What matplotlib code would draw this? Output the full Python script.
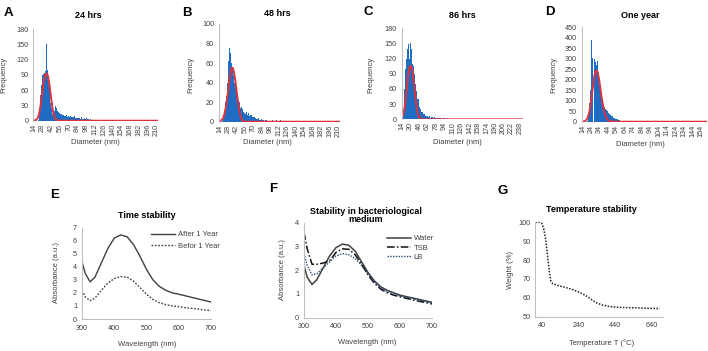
import matplotlib
matplotlib.use('Agg')
import matplotlib.pyplot as plt

plt.rcParams['font.family'] = ['Liberation Sans', 'DejaVu Sans']

# ---------------- data ----------------
# size histograms, 1 nm bins starting at 14 nm
hist_a = [0, 0, 0, 0, 0, 0, 0,
          2, 5, 12, 30, 50, 70, 85, 90, 92, 95,
          93, 95, 98, 150, 108, 100, 88, 75, 60, 45,
          35, 25, 18, 14, 12, 15, 20, 24, 28, 25,
          22, 20, 18, 17, 15, 16, 14, 13, 15, 12,
          11, 13, 10, 11, 9, 12, 10, 8, 9, 11,
          8, 7, 9, 8, 6, 8, 7, 6, 9, 7,
          5, 6, 7, 5, 6, 4, 5, 6, 4, 8,
          5, 4, 6, 3, 5, 4, 3, 5, 3, 4,
          3, 4, 2, 3, 4, 2, 3, 2, 3, 2,
          2, 3, 1, 2, 2, 1, 2, 1, 2, 1,
          1, 2, 1, 1, 0, 1, 1, 0, 1, 1,
          0, 1, 1, 0, 1, 0, 0, 1, 0, 1,
          0, 0, 1, 0, 0, 1, 0, 0, 0, 1,
          0, 0, 0, 1, 0, 0, 0, 0, 1, 0,
          0, 0, 0, 0, 0, 1, 0, 0, 0, 0,
          0, 0, 0, 0, 0, 0, 0, 0, 0, 0,
          0, 1, 0, 0, 0, 0, 0, 0, 0, 0,
          0, 0, 0, 0, 0, 0, 0, 0, 0, 0,
          0, 0, 0, 0, 0, 0, 0, 0, 0, 0,
          0, 0, 0]
hist_b = [0, 0, 0, 0, 0, 1, 3,
          6, 10, 15, 20, 26, 33, 40, 48, 62, 75,
          68, 70, 82, 60, 56, 52, 48, 44, 40, 36,
          32, 28, 30, 25, 22, 28, 20, 17, 14, 15,
          12, 13, 10, 11, 9, 10, 8, 10, 9, 7,
          8, 9, 6, 8, 7, 6, 7, 5, 6, 5,
          4, 5, 4, 5, 3, 4, 3, 4, 3, 2,
          3, 2, 3, 2, 2, 3, 2, 1, 2, 2,
          1, 2, 1, 2, 1, 1, 2, 1, 1, 1,
          2, 1, 1, 1, 0, 1, 1, 2, 1, 0,
          1, 1, 0, 1, 2, 1, 0, 1, 1, 0,
          1, 0, 1, 1, 0, 1, 0, 1, 0, 1,
          0, 1, 0, 0, 1, 0, 1, 0, 0, 1,
          0, 1, 0, 0, 1, 0, 0, 1, 0, 0,
          1, 0, 0, 1, 0, 0, 0, 1, 0, 0,
          1, 0, 0, 0, 1, 0, 0, 0, 0, 1,
          0, 0, 0, 0, 1, 0, 0, 0, 0, 0,
          0, 1, 0, 0, 0, 0, 0, 0, 1, 0,
          0, 0, 0, 0, 0, 1, 0, 0, 0, 0,
          0, 1, 0, 0, 0, 0, 0, 0, 0, 0,
          0, 0, 0]
hist_c = [2, 8, 20, 40, 60, 80, 100,
          115, 120, 125, 140, 152, 148, 130, 120, 125, 150,
          145, 140, 115, 110, 105, 100, 90, 80, 70, 60,
          55, 45, 40, 35, 40, 30, 25, 22, 20, 18,
          15, 12, 14, 10, 9, 11, 8, 7, 9, 6,
          5, 7, 5, 4, 5, 6, 4, 3, 4, 5,
          3, 4, 3, 3, 4, 2, 3, 3, 2, 3,
          2, 3, 2, 2, 3, 2, 2, 1, 2, 2,
          1, 2, 1, 2, 1, 1, 2, 1, 1, 2,
          1, 1, 1, 0, 1, 1, 0, 1, 1, 1,
          0, 1, 1, 0, 1, 0, 1, 1, 0, 1,
          1, 0, 0, 1, 0, 1, 0, 0, 1, 0,
          1, 0, 0, 1, 0, 0, 1, 0, 0, 1,
          0, 1, 0, 0, 1, 0, 0, 0, 1, 0,
          0, 1, 0, 0, 0, 1, 0, 0, 1, 0,
          0, 0, 1, 0, 0, 0, 0, 1, 0, 0,
          0, 1, 0, 0, 0, 0, 1, 0, 0, 0,
          1, 0, 0, 0, 0, 1, 0, 0, 0, 0,
          0, 0, 1, 0, 0, 0, 0, 0, 1, 0,
          0, 0, 0, 0, 1, 0, 0, 0, 0, 0,
          0, 1, 0, 0, 0, 0, 0, 0, 1, 0,
          0, 0, 0, 0, 0, 1, 0, 0, 0, 0,
          0, 0, 0, 1, 0, 0, 0, 0, 0, 1,
          0, 0, 0]
hist_d = [0, 0, 0, 0, 0, 0, 5,
          30, 90, 150, 230, 390, 305, 0, 300, 285, 270,
          250, 290, 220, 200, 160, 130, 110, 95, 80, 70,
          60, 55, 50, 45, 40, 35, 32, 28, 25, 22,
          20, 18, 15, 13, 12, 10, 8, 7, 5, 4,
          3, 2, 2, 1, 1, 0, 1, 0, 0, 0,
          0, 0, 0, 0, 0, 0, 0, 0, 0, 0,
          0, 0, 0, 0, 0, 0, 0, 0, 0, 0,
          0, 0, 0, 0, 0, 0, 0, 0, 0, 0,
          0, 0, 0, 0, 0, 0, 0, 0, 0, 0,
          0, 0, 0, 0, 0, 0, 0, 0, 0, 0,
          0, 0, 0, 0, 0, 0, 0, 0, 0, 0,
          0, 0, 0, 0, 0, 0, 0, 0, 0, 0,
          0, 0, 0, 0, 0, 0, 0, 0, 0, 0,
          0, 0, 0, 0, 0, 0, 0, 0, 0, 0,
          0]

# fitted curves (red)
fit_a_x = [14, 18, 20, 22, 24, 26, 28, 30, 32, 34, 36, 38, 40, 42, 44, 46, 48, 50, 52, 55, 213]
fit_a_y = [0, 2, 5, 12, 25, 42, 62, 80, 90, 93, 90, 78, 60, 40, 23, 11, 5, 2, 0.5, 0, 0]
fit_b_x = [14, 16, 18, 20, 22, 24, 26, 28, 30, 32, 34, 36, 38, 40, 42, 44, 46, 48, 50, 52, 55, 213]
fit_b_y = [0, 1, 2, 4, 8, 14, 22, 31, 41, 50, 55, 55, 50, 42, 32, 22, 13, 7, 3, 1, 0, 0]
fit_c_x = [14, 16, 18, 20, 22, 24, 26, 28, 30, 32, 34, 36, 38, 40, 42, 44, 46, 48, 50, 53, 243]
fit_c_y = [3, 10, 20, 35, 55, 75, 92, 103, 106, 102, 90, 72, 52, 34, 20, 10, 5, 2, 1, 0, 0]
fit_d_x = [14, 16, 18, 20, 22, 24, 26, 28, 30, 32, 34, 36, 38, 40, 42, 44, 46, 48, 50, 161]
fit_d_y = [0, 2, 6, 18, 45, 95, 160, 220, 245, 235, 190, 130, 80, 42, 20, 8, 3, 1, 0, 0]

ticks_ab = [14, 28, 42, 56, 70, 84, 98, 112, 126, 140, 154, 168, 182, 196, 210]
ticks_c = [14, 30, 46, 62, 78, 94, 110, 126, 142, 158, 174, 190, 206, 222, 238]
ticks_d = [14, 24, 34, 44, 54, 64, 74, 84, 94, 104, 114, 124, 134, 144, 154]

# UV-vis spectra
wl = [300, 310, 325, 340, 360, 380, 400, 420, 440, 460, 480, 500, 520, 540, 560, 580, 600, 625, 650, 675, 700]
after_1y = [4.4, 3.5, 2.85, 3.2, 4.3, 5.4, 6.2, 6.45, 6.3, 5.7, 4.8, 3.8, 3.0, 2.5, 2.2, 2.0, 1.9, 1.75, 1.6, 1.45, 1.3]
before_1y = [2.2, 1.7, 1.4, 1.6, 2.2, 2.75, 3.1, 3.25, 3.2, 2.9, 2.4, 1.9, 1.5, 1.25, 1.1, 1.0, 0.95, 0.85, 0.8, 0.7, 0.65]
water = [2.2, 1.7, 1.4, 1.6, 2.1, 2.6, 2.95, 3.1, 3.05, 2.8, 2.35, 1.9, 1.55, 1.3, 1.15, 1.05, 0.95, 0.87, 0.8, 0.72, 0.65]
tsb = [3.6, 2.9, 2.25, 2.25, 2.3, 2.4, 2.75, 2.9, 2.88, 2.65, 2.25, 1.8, 1.45, 1.2, 1.05, 0.95, 0.88, 0.8, 0.72, 0.65, 0.58]
lb = [2.7, 2.2, 1.8, 1.85, 2.1, 2.35, 2.6, 2.7, 2.65, 2.5, 2.2, 1.85, 1.5, 1.25, 1.1, 1.0, 0.92, 0.85, 0.78, 0.7, 0.62]

# TGA
temp = [5, 30, 40, 50, 60, 70, 80, 90, 100, 130, 170, 210, 250, 280, 310, 340, 370, 410, 450, 510, 580, 640, 684]
weight = [100, 100, 99.5, 97, 92, 84, 75, 69, 67.5, 66.5, 65.5, 64.3, 62.7, 61.2, 59.2, 57.3, 56.2, 55.4, 55.0, 54.8, 54.6, 54.4, 54.3]

# ---------------- layout ----------------
W, H = 708, 351
fig = plt.figure(figsize=(W / 100, H / 100), dpi=100)
GRAY = '#bfbfbf'
TXT = '#404040'
BLUE = '#1f6dc2'
RED = '#e0323c'


def box(l, t, r, b):
    return [l / W, 1 - b / H, (r - l) / W, (b - t) / H]


def fx(x):
    return x / W


def fy(y):
    return 1 - y / H


def style_axes(ax):
    for s in ['top', 'right']:
        ax.spines[s].set_visible(False)
    for s in ['left', 'bottom']:
        ax.spines[s].set_color(GRAY)
        ax.spines[s].set_linewidth(0.8)
    ax.tick_params(length=0, labelsize=5.2, colors=TXT)
    ax.tick_params(axis='x', pad=4)
    ax.tick_params(axis='y', pad=3.5)


hist_panels = [
    ('A', '24 hrs', hist_a, fit_a_x, fit_a_y, ticks_ab, (13, 213), [0, 30, 60, 90, 120, 150, 180], 180,
     (33.3, 29, 158, 120.7), (8, 13), (88, 16), (4, 75), (95, 143)),
    ('B', '48 hrs', hist_b, fit_b_x, fit_b_y, ticks_ab, (13, 213), [0, 20, 40, 60, 80, 100], 100,
     (219, 24, 340, 121.7), (187, 13), (277, 14), (191, 75), (267, 143)),
    ('C', '86 hrs', hist_c, fit_c_x, fit_c_y, ticks_c, (13, 243), [0, 30, 60, 90, 120, 150, 180], 180,
     (401.7, 28.3, 522.7, 119.3), (368, 12), (462, 16), (371, 75), (457, 142)),
    ('D', 'One year', hist_d, fit_d_x, fit_d_y, ticks_d, (13, 161), [0, 50, 100, 150, 200, 250, 300, 350, 400, 450], 450,
     (581.7, 27.3, 707, 121.7), (550, 12), (640, 15), (554, 75), (640, 144)),
]

for (letter, title, counts, fitx, fity, xt, xl, yt, ymax, bx, lpos, tpos, ypos, xpos) in hist_panels:
    ax = fig.add_axes(box(*bx))
    centers = list(range(14, 14 + len(counts)))
    ax.bar(centers, counts, width=1.0, color=BLUE, linewidth=0)
    ax.plot(fitx, fity, color=RED, lw=1.4)
    ax.set_xlim(*xl)
    ax.set_ylim(0, ymax)
    ax.set_xticks(xt)
    ax.set_xticklabels([str(t) for t in xt], rotation=90)
    ax.set_yticks(yt)
    style_axes(ax)
    ax.tick_params(axis='x', pad=2)
    ax.spines['bottom'].set_visible(False)
    fig.text(fx(lpos[0]), fy(lpos[1]), letter, fontsize=9.5, fontweight='bold', ha='center', va='center')
    fig.text(fx(tpos[0]), fy(tpos[1]), title, fontsize=6.5, fontweight='bold', ha='center', va='center')
    fig.text(fx(ypos[0]), fy(ypos[1]), 'Frequency', fontsize=5.5, color=TXT, rotation=90, ha='center', va='center')
    fig.text(fx(xpos[0]), fy(xpos[1]), 'Diameter (nm)', fontsize=5.5, color=TXT, ha='center', va='center')

# E: time stability
ax = fig.add_axes(box(82, 227.7, 211, 319))
ax.plot(wl, after_1y, color='#404040', lw=1.0, label='After 1 Year')
ax.plot(wl, before_1y, color='#404040', lw=1.0, linestyle=(0, (1.2, 1.2)), label='Befor 1 Year')
ax.set_xlim(300, 700)
ax.set_ylim(0, 7)
ax.set_xticks([300, 400, 500, 600, 700])
ax.set_yticks(range(0, 8))
style_axes(ax)
ax.legend(loc='upper left', bbox_to_anchor=(fx(151), fy(231)), bbox_transform=fig.transFigure,
          frameon=False, fontsize=5.5, handlelength=3.2, handletextpad=0.3, labelspacing=0.5,
          borderpad=0, borderaxespad=0, labelcolor=TXT)
fig.text(fx(55), fy(195), 'E', fontsize=9.5, fontweight='bold', ha='center', va='center')
fig.text(fx(147), fy(215), 'Time stability', fontsize=6.5, fontweight='bold', ha='center', va='center')
fig.text(fx(57), fy(273), 'Absorbance (a.u.)', fontsize=5.5, color=TXT, rotation=90, ha='center', va='center')
fig.text(fx(147), fy(345), 'Wavelength (nm)', fontsize=5.5, color=TXT, ha='center', va='center')

# F: bacteriological medium
ax = fig.add_axes(box(304, 222.7, 432, 317.7))
ax.plot(wl, water, color='#404040', lw=1.1, label='Water')
ax.plot(wl, tsb, color='#111111', lw=1.1, linestyle=(0, (5, 1.5, 1, 1.5)), label='TSB')
ax.plot(wl, lb, color='#2e4a78', lw=1.0, linestyle=(0, (1, 1)), label='LB')
ax.set_xlim(300, 700)
ax.set_ylim(0, 4)
ax.set_xticks([300, 400, 500, 600, 700])
ax.set_yticks(range(0, 5))
style_axes(ax)
ax.legend(loc='upper left', bbox_to_anchor=(fx(387), fy(235)), bbox_transform=fig.transFigure,
          frameon=False, fontsize=5.5, handlelength=3.2, handletextpad=0.3, labelspacing=0.25,
          borderpad=0, borderaxespad=0, labelcolor=TXT)
fig.text(fx(273), fy(189), 'F', fontsize=9.5, fontweight='bold', ha='center', va='center')
fig.text(fx(366), fy(215.5), 'Stability in bacteriological\nmedium', fontsize=6.5, fontweight='bold',
         ha='center', va='center', linespacing=1.0)
fig.text(fx(282), fy(270), 'Absorbance (a.u.)', fontsize=5.5, color=TXT, rotation=90, ha='center', va='center')
fig.text(fx(367), fy(343), 'Wavelength (nm)', fontsize=5.5, color=TXT, ha='center', va='center')

# G: temperature stability
ax = fig.add_axes(box(535.3, 222.3, 662.7, 316.7))
ax.plot(temp, weight, color='#222222', lw=1.1, linestyle=(0, (1, 1)))
ax.set_xlim(5, 700)
ax.set_ylim(50, 100)
ax.set_xticks([40, 240, 440, 640])
ax.set_yticks([50, 60, 70, 80, 90, 100])
style_axes(ax)
fig.text(fx(503), fy(191), 'G', fontsize=9.5, fontweight='bold', ha='center', va='center')
fig.text(fx(591), fy(209), 'Temperature stability', fontsize=6.5, fontweight='bold', ha='center', va='center')
fig.text(fx(510), fy(270), 'Weight (%)', fontsize=5.5, color=TXT, rotation=90, ha='center', va='center')
fig.text(fx(602), fy(343), 'Temperature T (°C)', fontsize=5.5, color=TXT, ha='center', va='center')

fig.savefig('out.png', dpi=100)
